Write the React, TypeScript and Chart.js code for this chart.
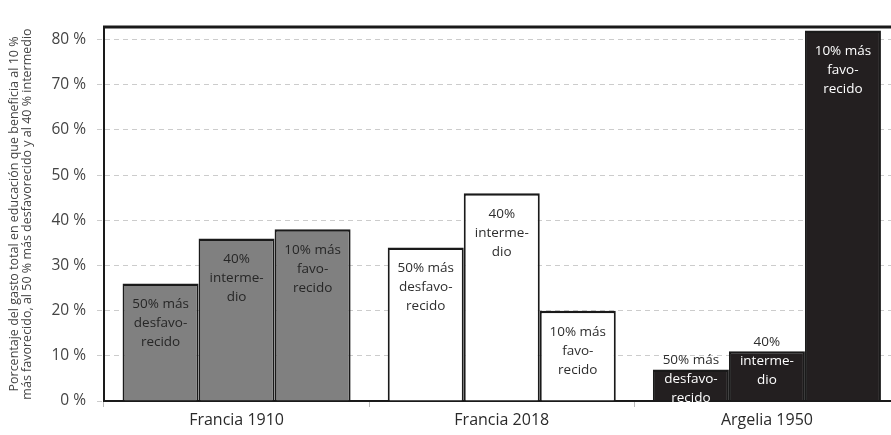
import React, { useEffect, useRef } from "react";
import { Chart, registerables } from "chart.js";

Chart.register(...registerables);

// ---- data ----
const categories = ["Francia 1910", "Francia 2018", "Argelia 1950"];
const groupNames = ["50% más desfavorecido", "40% intermedio", "10% más favorecido"];
const bottom50 = [26, 34, 7];
const middle40 = [36, 46, 11];
const top10 = [38, 20, 82];
const barLabelLines = [
  ["50% más", "desfavo-", "recido"],
  ["40%", "interme-", "dio"],
  ["10% más", "favo-", "recido"],
];
const yTickValues = [0, 10, 20, 30, 40, 50, 60, 70, 80];
const yMax = 82.8;
const yTitle = [
  "Porcentaje del gasto total en educación que beneficia al 10 %",
  "más favorecido, al 50 % más desfavorecido y al 40 % intermedio",
];

// ---- styles ----
const categoryFill = ["#808080", "#ffffff", "#231f20"];
const categoryInk = ["#262626", "#2e2e2e", "#ffffff"];
const FONT = "'Open Sans', 'Noto Sans', sans-serif";

const barLabelPlugin = {
  id: "barLabels",
  afterDatasetsDraw(chart: any) {
    const ctx = chart.ctx;
    ctx.save();
    ctx.font = `13.5px ${FONT}`;
    ctx.textAlign = "center";
    ctx.textBaseline = "middle";
    chart.data.datasets.forEach((_ds: any, i: number) => {
      const meta = chart.getDatasetMeta(i);
      const lines = barLabelLines[i];
      meta.data.forEach((bar: any, j: number) => {
        const { x, y, base } = bar.getProps(["x", "y", "base"], true);
        const h = base - y;
        const start = h < 60 ? y - 9.5 : y + 21;
        lines.forEach((t: string, k: number) => {
          const ly = start + k * 19;
          ctx.fillStyle = ly < y ? "#2e2e2e" : categoryInk[j];
          ctx.fillText(t, x, ly);
        });
      });
    });
    ctx.restore();
  },
};

const framePlugin = {
  id: "frameTop",
  afterDraw(chart: any) {
    const { ctx, chartArea } = chart;
    ctx.save();
    ctx.strokeStyle = "#1a1a1a";
    ctx.lineWidth = 3;
    ctx.beginPath();
    ctx.moveTo(chartArea.left - 1, chartArea.top);
    ctx.lineTo(chart.width, chartArea.top);
    ctx.stroke();
    ctx.restore();
  },
};

export default function App() {
  const ref = useRef<HTMLCanvasElement | null>(null);

  useEffect(() => {
    if (!ref.current) return;
    const series = [bottom50, middle40, top10];
    const chart = new Chart(ref.current, {
      type: "bar",
      data: {
        labels: categories,
        datasets: series.map((vals, i) => ({
          label: groupNames[i],
          data: vals,
          backgroundColor: categoryFill,
          borderColor: "#1a1a1a",
          borderWidth: { top: 2.5, left: 2, right: 2, bottom: 0 },
          borderSkipped: false as any,
          categoryPercentage: 0.86,
          barPercentage: 1,
        })),
      },
      options: {
        animation: false,
        responsive: false,
        devicePixelRatio: 1,
        layout: { padding: { top: 27, right: 10.5, bottom: 0, left: 0 } },
        plugins: {
          legend: { display: false },
          tooltip: { enabled: false },
        },
        scales: {
          x: {
            grid: {
              display: true,
              drawOnChartArea: false,
              drawTicks: true,
              tickLength: 6,
              color: "#bbbbbb",
              tickColor: "#bbbbbb",
              offset: true,
            },
            border: { display: true, color: "#1a1a1a", width: 2 },
            ticks: {
              color: "#2a2a2a",
              font: { family: FONT, size: 16 },
              padding: 4,
            },
            afterFit: (s: any) => {
              s.height = 34;
            },
          },
          y: {
            min: 0,
            max: yMax,
            afterBuildTicks: (s: any) => {
              s.ticks = yTickValues.map((v) => ({ value: v }));
            },
            ticks: {
              color: "#444444",
              font: { family: FONT, size: 15.5 },
              padding: 11,
              callback: (v: any) => `${v} %`,
            },
            grid: {
              color: "#cccccc",
              lineWidth: 1,
              tickLength: 7,
              tickColor: "#cccccc",
              tickBorderDash: [5, 4],
            },
            border: { display: true, color: "#1a1a1a", width: 2, dash: [5, 4] },
            title: {
              display: true,
              text: yTitle,
              color: "#444444",
              font: { family: FONT, size: 12.5, lineHeight: 1.05 },
              padding: { top: 7.5, bottom: 0 },
            },
            afterFit: (s: any) => {
              s.width = 104;
            },
          },
        },
      },
      plugins: [barLabelPlugin, framePlugin],
    });
    return () => chart.destroy();
  }, []);

  return (
    <div
      style={{
        position: "fixed",
        left: 0,
        top: 0,
        width: 891,
        height: 435,
        overflow: "hidden",
        background: "#ffffff",
      }}
    >
      <canvas ref={ref} width={910} height={435} style={{ width: 910, height: 435, display: "block" }} />
    </div>
  );
}
